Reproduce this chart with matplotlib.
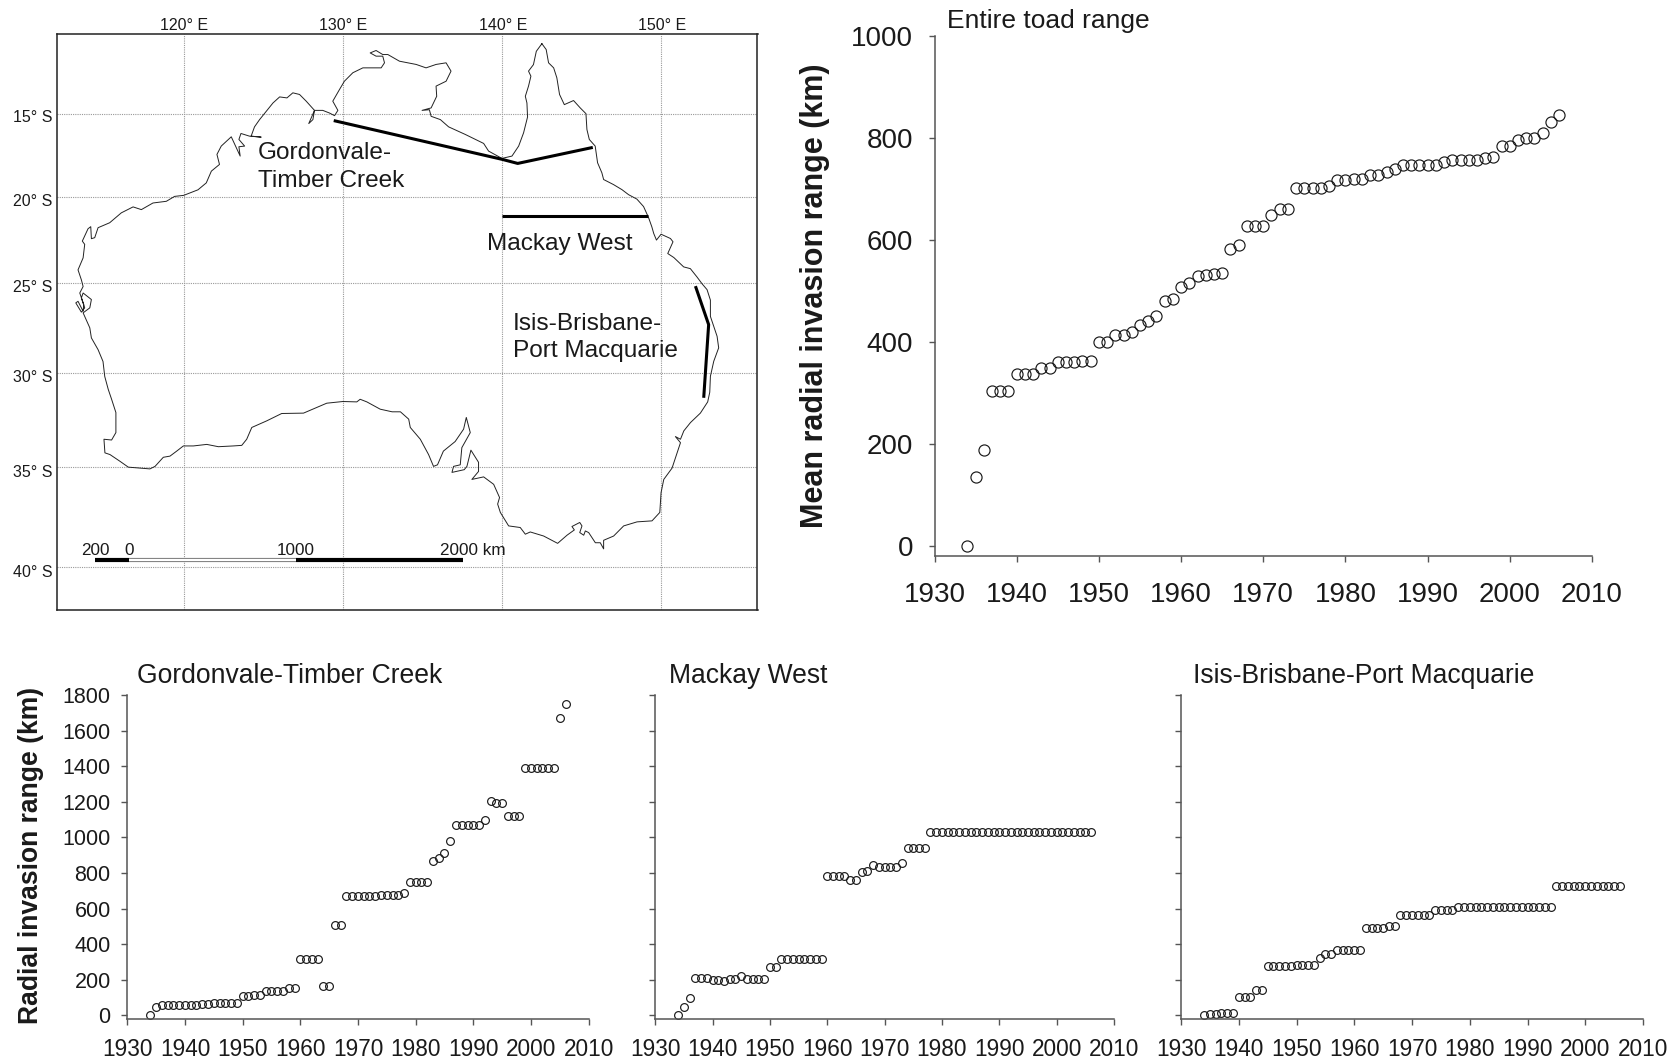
import matplotlib
matplotlib.use('Agg')
import matplotlib.pyplot as plt
import numpy as np

plt.rcParams['font.family'] = ['Liberation Sans', 'DejaVu Sans']

W, H = 1677, 1059
INK = '#1a1a1a'
AXIS = '#555555'

years = list(range(1934, 2007))

entire = [0, 135, 187, 303, 303, 303, 337, 337, 337, 349, 349, 360, 360, 360, 362, 362,
          400, 400, 413, 413, 420, 433, 440, 451, 480, 485, 508, 515, 530, 532, 534, 535,
          583, 590, 628, 628, 628, 648, 661, 661, 702, 702, 702, 702, 706, 717, 717, 719,
          719, 727, 728, 734, 740, 746, 746, 746, 746, 746, 753, 757, 757, 757, 757, 761,
          762, 784, 785, 796, 800, 800, 809, 832, 845]
gordonvale = [0, 50, 57, 57, 57, 57, 57, 57, 58, 62, 62, 70, 70, 70, 70, 70,
              108, 108, 115, 115, 140, 140, 140, 140, 155, 155, 318, 318, 318, 318, 165, 165,
              507, 507, 670, 670, 670, 670, 670, 672, 678, 678, 678, 678, 690, 752, 752, 752,
              752, 865, 882, 912, 980, 1072, 1072, 1072, 1072, 1072, 1097, 1207, 1195, 1195, 1120, 1120,
              1120, 1388, 1388, 1388, 1388, 1388, 1388, 1670, 1750]
mackay = [0, 48, 100, 213, 213, 213, 197, 197, 193, 207, 207, 222, 207, 207, 207, 207,
          272, 272, 318, 318, 318, 318, 318, 318, 318, 318, 785, 785, 785, 785, 760, 760,
          805, 812, 845, 836, 836, 836, 836, 857, 938, 938, 938, 938, 1031, 1031, 1031, 1031,
          1031, 1031, 1031, 1031, 1031, 1031, 1031, 1031, 1031, 1031, 1031, 1031, 1031, 1031, 1031, 1031,
          1031, 1031, 1031, 1031, 1031, 1031, 1031, 1031, 1031]
isis = [0, 10, 10, 13, 13, 13, 105, 105, 105, 145, 145, 276, 276, 276, 276, 276,
        282, 282, 282, 282, 320, 345, 345, 367, 367, 367, 367, 367, 490, 490, 490, 490,
        503, 503, 565, 565, 565, 565, 565, 565, 592, 592, 592, 592, 610, 610, 610, 610,
        610, 610, 610, 610, 610, 610, 610, 610, 610, 610, 610, 610, 610, 727, 727, 727,
        727, 727, 727, 727, 727, 727, 727, 727, 727]

year_ticks = list(range(1930, 2011, 10))
entire_ticks = [0, 200, 400, 600, 800, 1000]
route_ticks = list(range(0, 1801, 200))

grid_lon = [120, 130, 140, 150]
grid_lat = [15, 20, 25, 30, 35, 40]

# coastline, clockwise from Cape York (south latitudes positive)
coast_lon = [
    # east coast
    142.51, 142.78, 142.93, 143.25, 143.45, 143.62, 143.92, 144.50, 144.92, 145.28, 145.34, 145.49,
    145.86, 146.01, 146.28, 146.39, 147.01, 147.54, 147.96, 148.48, 148.90, 149.21, 149.42, 149.54,
    149.71, 150.00, 150.59, 150.75, 150.42, 150.80, 151.42, 151.84, 152.26, 152.58, 152.89, 153.10,
    153.10, 153.52, 153.62, 153.31, 153.10, 153.06, 152.93, 152.47, 151.85, 151.43, 151.22, 150.90,
    151.22, 151.01, 150.69, 150.17, 150.00, 149.92,
    # south coast
    149.43, 148.49, 147.65, 147.02, 146.39, 146.39, 146.18, 145.87, 145.45, 145.24, 145.14, 144.89,
    145.03, 144.89, 144.40, 144.55, 144.09, 143.50, 142.62, 141.78, 141.47, 141.15, 140.42, 139.90,
    139.73, 139.85, 139.48, 138.85, 138.11, 138.53, 138.53, 138.05, 137.80, 137.63, 136.86, 136.96,
    137.38, 137.48, 138.01, 137.76, 137.59, 137.06, 136.32, 135.95, 135.70, 135.39, 134.87, 134.24,
    134.14, 133.62, 133.10, 132.35, 131.51, 131.09, 130.88, 130.00, 128.99, 127.53, 126.16, 125.22,
    124.28, 123.96, 123.65, 123.12, 122.18, 121.45, 120.61, 119.98, 119.56, 119.14, 118.72, 118.20,
    117.88, 117.25, 116.52, 116.00, 115.37, 115.05, 114.99, 115.47, 115.74,
    # west coast
    115.74, 115.47, 115.26, 115.04, 114.93, 114.62, 114.20, 114.10, 113.68, 114.10, 114.20, 113.68,
    113.57, 113.78, 113.57, 113.22, 113.36, 113.68, 113.72, 113.47, 113.68, 113.57, 113.36, 113.68,
    113.78, 113.63, 113.99, 114.16, 114.20, 114.41, 114.62, 115.35, 116.08, 116.82, 117.34, 118.07,
    118.91, 119.43, 120.00, 120.90, 121.42,
    # north coast
    121.74, 122.25, 122.09, 122.36, 122.99, 123.55, 123.47, 123.83, 123.47, 123.60, 124.13, 124.87,
    124.24, 124.45, 124.77, 125.19, 125.61, 126.03, 126.49, 126.86, 127.28, 127.70, 128.22, 128.12,
    127.86, 128.22, 128.74, 129.16, 129.48, 129.69, 129.37, 129.79, 130.10, 130.63, 131.26, 132.41,
    132.62, 132.51, 132.09, 131.72, 132.09, 132.51, 132.83, 133.56, 134.61, 135.23, 135.86, 136.49,
    136.80, 136.49, 135.86, 135.90, 135.55, 134.98, 135.44, 135.55, 136.13, 136.65, 137.70, 138.85,
    139.16, 140.00, 140.63, 141.05, 141.36, 141.61, 141.57, 141.47, 141.67, 141.82, 141.67, 141.98,
    142.16, 142.51]
coast_lat = [
    10.71, 11.07, 11.89, 12.20, 12.81, 13.83, 14.45, 14.20, 14.65, 15.00, 15.96, 16.56,
    16.96, 17.96, 18.56, 18.96, 19.26, 19.56, 19.86, 20.12, 20.56, 21.20, 21.75, 22.14,
    22.52, 22.18, 22.43, 22.62, 23.30, 23.53, 24.07, 24.17, 24.65, 25.04, 25.37, 25.96,
    26.88, 27.99, 28.63, 29.37, 30.19, 31.05, 31.57, 32.17, 32.67, 33.11, 33.55, 33.41,
    33.73, 34.26, 35.05, 35.63, 36.30, 37.30,
    37.72, 37.77, 37.97, 38.47, 38.68, 39.10, 38.80, 38.80, 38.30, 38.22, 38.43, 38.30,
    37.97, 37.80, 38.00, 38.17, 38.43, 38.83, 38.47, 38.27, 38.38, 38.05, 37.97, 37.30,
    36.88, 36.55, 35.88, 35.50, 35.63, 35.22, 34.75, 34.12, 34.96, 35.13, 35.27, 34.96,
    34.88, 33.99, 33.20, 32.40, 33.02, 33.67, 34.17, 34.88, 34.96, 34.35, 33.55, 32.93,
    32.49, 32.10, 32.10, 31.96, 31.57, 31.43, 31.57, 31.55, 31.64, 32.17, 32.19, 32.58,
    32.93, 33.55, 33.87, 33.90, 33.94, 33.82, 33.90, 33.90, 34.17, 34.43, 34.49, 34.96,
    35.09, 35.05, 35.00, 34.70, 34.35, 34.26, 33.55, 33.59, 33.20,
    32.14, 31.43, 30.90, 30.20, 29.38, 28.73, 28.08, 27.52, 26.68, 26.40, 25.93, 25.56,
    25.84, 26.40, 26.64, 26.12, 26.03, 26.59, 26.21, 25.56, 25.19, 24.81, 24.24, 23.55,
    22.77, 22.58, 21.86, 21.74, 22.44, 22.38, 21.80, 21.51, 20.93, 20.58, 20.74, 20.35,
    20.25, 19.96, 19.90, 19.57, 19.16,
    18.46, 18.06, 17.46, 16.96, 16.40, 17.56, 17.00, 16.96, 16.56, 16.20, 16.36, 16.42,
    16.36, 15.80, 15.36, 14.86, 14.35, 13.98, 14.04, 13.73, 13.83, 14.24, 14.80, 15.36,
    15.60, 14.80, 14.80, 14.96, 15.12, 14.80, 14.24, 13.53, 13.02, 12.50, 12.20, 12.20,
    11.89, 11.48, 11.48, 11.28, 11.13, 11.38, 11.38, 11.79, 11.99, 12.20, 11.99, 11.89,
    12.40, 13.02, 13.32, 13.94, 14.65, 14.80, 14.76, 15.16, 15.36, 15.80, 16.26, 16.80,
    17.26, 17.70, 17.56, 16.96, 16.16, 15.20, 14.35, 13.94, 13.32, 12.71, 12.40, 12.00,
    11.18, 10.71]

route1_lon = [129.43, 140.03, 140.99, 145.71]
route1_lat = [15.42, 17.76, 18.00, 17.04]
route2_lon = [140.03, 149.17]
route2_lat = [21.12, 21.12]
route3_lon = [152.16, 152.99, 152.68]
route3_lat = [25.17, 27.34, 31.35]

scale_lon = [114.42, 116.54, 127.05, 137.56]
scale_labels = ['200', '0', '1000', '2000 km']


def px_axes(x0, x1, y_top, y_bottom):
    return fig.add_axes([x0 / W, 1 - y_bottom / H, (x1 - x0) / W, (y_bottom - y_top) / H])


def merc(lat):
    return np.log(np.tan(np.pi / 4 + np.radians(lat) / 2))


def merc_inv(y):
    return np.degrees(2 * np.arctan(np.exp(y)) - np.pi / 2)


def scatter_panel(ax, values, ms, yticks, ymax, labels, xsize, ysize, xpad, ypad):
    ax.plot(years, values, 'o', ms=ms, mfc='none', mec=INK, mew=0.85, clip_on=False)
    ax.set_xlim(1930, 2010)
    ax.set_ylim(-20, ymax)
    ax.set_xticks(year_ticks)
    ax.set_yticks(yticks)
    if not labels:
        ax.set_yticklabels([])
    ax.spines[['top', 'right']].set_visible(False)
    ax.spines[['left', 'bottom']].set_color(AXIS)
    ax.spines[['left', 'bottom']].set_linewidth(1.1)
    ax.tick_params(length=4, width=1, color=AXIS, labelcolor=INK)
    ax.tick_params(axis='x', pad=xpad, labelsize=xsize)
    ax.tick_params(axis='y', pad=ypad, labelsize=ysize)


fig = plt.figure(figsize=(W / 100, H / 100), dpi=100, facecolor='white')

# map
m = px_axes(56.7, 757.5, 33.5, 610)
m.set_yscale('function', functions=(merc, merc_inv))
m.set_xlim(112.02, 156.06)
m.set_ylim(-42.02, -10.08)
m.set_xticks([])
m.set_yticks([])
m.minorticks_off()
for s in m.spines.values():
    s.set_linewidth(1.1)
    s.set_color('#222222')
for lon in grid_lon:
    m.axvline(lon, color='#999999', lw=0.8, ls=(0, (1, 1)), zorder=1)
    m.text(lon + 0.05, -9.6, f'{lon}° E', ha='center', va='center', fontsize=11.5, color=INK)
for lat in grid_lat:
    m.axhline(-lat, color='#999999', lw=0.8, ls=(0, (1, 1)), zorder=1)
    m.text(111.75, -lat - 0.25, f'{lat}° S', ha='right', va='center', fontsize=11.5, color=INK)
m.plot(coast_lon, -np.array(coast_lat), color='#222222', lw=0.7, zorder=2)
for lons, lats in [(route1_lon, route1_lat), (route2_lon, route2_lat), (route3_lon, route3_lat)]:
    m.plot(lons, -np.array(lats), color='black', lw=2.2, zorder=3, solid_capstyle='butt')

scale_lat = -39.62
m.plot(scale_lon[:2], [scale_lat] * 2, color='black', lw=3, solid_capstyle='butt', zorder=3)
m.plot(scale_lon[1:3], [scale_lat] * 2, color='#777777', lw=3, solid_capstyle='butt', zorder=3)
m.plot(scale_lon[1:3], [scale_lat] * 2, color='white', lw=1.6, solid_capstyle='butt', zorder=3)
m.plot(scale_lon[2:], [scale_lat] * 2, color='black', lw=3, solid_capstyle='butt', zorder=3)
for lon, lab in zip(scale_lon, scale_labels):
    if lab == '2000 km':
        m.text(136.1, -39.2, lab, ha='left', va='center', fontsize=12.3, color=INK)
    else:
        m.text(lon, -39.2, lab, ha='center', va='center', fontsize=12.3, color=INK)

m.text(124.66, -18.2, 'Gordonvale-\nTimber Creek', ha='left', va='center', fontsize=17.6,
       color=INK, linespacing=1.34)
m.text(139.05, -22.75, 'Mackay West', ha='left', va='center', fontsize=17.6, color=INK)
m.text(140.7, -28.05, 'Isis-Brisbane-\nPort Macquarie', ha='left', va='center', fontsize=17.6,
       color=INK, linespacing=1.3)

# entire range
a = px_axes(934.5, 1592, 36, 556)
scatter_panel(a, entire, 8, entire_ticks, 1000, True, 20, 20, 14.4, 11.5)
a.text(1931.5, 1029, 'Entire toad range', ha='left', va='center', fontsize=19, color=INK)
fig.text(815 / W, 1 - 296 / H, 'Mean radial invasion range (km)', rotation=90, ha='center',
         va='center', fontsize=22, fontweight='bold', color=INK)

# three routes
b1 = px_axes(127.3, 588.6, 695, 1019)
scatter_panel(b1, gordonvale, 5.6, route_ticks, 1800, True, 16.3, 15.5, 10, 8)
b1.text(1931.6, 1905, 'Gordonvale-Timber Creek', ha='left', va='center', fontsize=19.1, color=INK)

b2 = px_axes(655.2, 1114, 695, 1019)
scatter_panel(b2, mackay, 5.6, route_ticks, 1800, False, 16.3, 15.5, 10, 8)
b2.text(1932.4, 1905, 'Mackay West', ha='left', va='center', fontsize=19.1, color=INK)

b3 = px_axes(1181, 1643, 695, 1019)
scatter_panel(b3, isis, 5.6, route_ticks, 1800, False, 16.3, 15.5, 10, 8)
b3.text(1932, 1905, 'Isis-Brisbane-Port Macquarie', ha='left', va='center', fontsize=19.1, color=INK)

fig.text(31.5 / W, 1 - 855 / H, 'Radial invasion range (km)', rotation=90, ha='center',
         va='center', fontsize=19.1, fontweight='bold', color=INK)

fig.savefig('out.png', dpi=100, facecolor='white')
plt.close(fig)
